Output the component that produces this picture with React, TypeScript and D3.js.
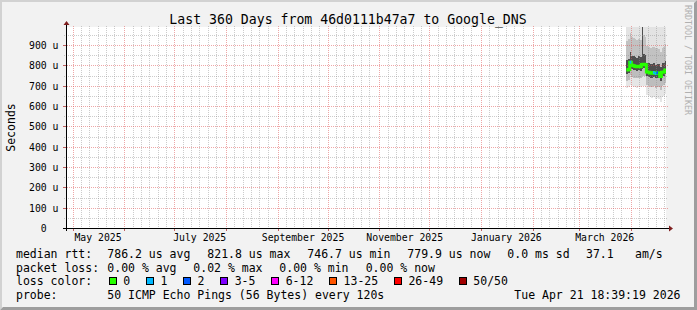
import React from "react";
import * as d3 from "d3";

const W = 697;
const H = 310;

const END_TIME = Date.UTC(2026, 3, 21, 18, 39, 19);
const SPAN_DAYS = 360;

const titleText = "Last 360 Days from 46d0111b47a7 to Google_DNS";
const yAxisTitle = "Seconds";
const watermark = "RRDTOOL / TOBI OETIKER";

const yMajorTicks = [0, 100, 200, 300, 400, 500, 600, 700, 800, 900];
const yMajorLabels = ["0", "100 u", "200 u", "300 u", "400 u", "500 u", "600 u", "700 u", "800 u", "900 u"];
const yMinorTicks = [50, 150, 250, 350, 450, 550, 650, 750, 850, 950];

const xLabelMonths = [[2025, 4], [2025, 6], [2025, 8], [2025, 10], [2026, 0], [2026, 2]];
const xLabelTexts = ["May 2025", "July 2025", "September 2025", "November 2025", "January 2026", "March 2026"];
const minorDaysOfMonth = [6, 11, 16, 21, 26];

// daily data, first day 2026-03-29 (values in microseconds)
const dataFirstDay = [2026, 2, 29];
const medianRtt = [780, 782, 818, 803, 800, 797, 795, 798, 796, 806, 808, 805, 770, 768, 765, 764, 767, 762, 766, 763, 748, 768, 770, 780];
const lossIndex = [0, 0, 1, 0, 0, 0, 0, 0, 0, 0, 0, 0, 0, 0, 0, 0, 1, 1, 2, 0, 0, 0, 0, 0];
const smokeMin = [690, 695, 705, 700, 698, 695, 692, 696, 694, 700, 702, 698, 655, 650, 645, 640, 648, 635, 642, 638, 620, 645, 650, 660];
const smokeP10 = [725, 730, 755, 745, 742, 740, 738, 742, 740, 750, 752, 748, 705, 700, 698, 695, 700, 692, 698, 694, 680, 700, 705, 715];
const smokeP25 = [762, 765, 790, 784, 780, 778, 776, 780, 775, 786, 790, 786, 748, 744, 742, 740, 745, 738, 742, 740, 726, 744, 748, 758];
const smokeP75 = [830, 835, 870, 850, 848, 845, 840, 846, 845, 1000, 860, 852, 815, 812, 808, 810, 812, 806, 810, 808, 795, 812, 816, 825];
const smokeP90 = [920, 930, 960, 940, 935, 930, 925, 930, 928, 1000, 950, 940, 900, 895, 890, 892, 895, 888, 890, 885, 870, 890, 895, 905];
const smokeMax = [1150, 1180, 1220, 1160, 1140, 1170, 1130, 1150, 1160, 1250, 1190, 1170, 1120, 1110, 1100, 1130, 1120, 1090, 1110, 1100, 1080, 1120, 1130, 1140];

const lossLabels = ["0", "1", "2", "3-5", "6-12", "13-25", "26-49", "50/50"];
const lossColors = ["#26ff00", "#00b8ff", "#0059ff", "#7e00ff", "#ff00ff", "#ff5500", "#ff0000", "#a10000"];

const rttStats = ["786.2 us avg", "821.8 us max", "746.7 us min", "779.9 us now", "0.0 ms sd"];
const rttAms = ["37.1", "am/s"];
const lossStats = ["0.00 % avg", "0.02 % max", "0.00 % min", "0.00 % now"];
const legendHeads = ["median rtt:", "packet loss:", "loss color:", "probe:"];
const probeText = "50 ICMP Echo Pings (56 Bytes) every 120s";
const timestampText = "Tue Apr 21 18:39:19 2026";

const FONT = "'DejaVu Sans Mono', monospace";

export default function App() {
  const plotL = 66;
  const plotR = 666;
  const plotT = 27;
  const plotB = 228;
  const startTime = END_TIME - SPAN_DAYS * 86400000;

  const x = d3.scaleUtc().domain([new Date(startTime), new Date(END_TIME)]).range([plotL, plotR]);
  const y = d3.scaleLinear().domain([0, 900]).range([plotB + 0.5, 45.5]);
  const px = (t: Date | number) => Math.floor(x(t as any)) + 0.5;
  const py = (v: number) => Math.floor(y(v)) + 0.5;

  const monthStarts = d3.utcMonth.range(new Date(startTime), new Date(END_TIME));
  const minorDates: Date[] = [];
  const firstMonth = d3.utcMonth.floor(new Date(startTime));
  d3.utcMonth.range(firstMonth, new Date(END_TIME)).forEach((m) => {
    minorDaysOfMonth.forEach((d) => {
      const dt = new Date(Date.UTC(m.getUTCFullYear(), m.getUTCMonth(), d));
      if (dt.getTime() > startTime && dt.getTime() < END_TIME) minorDates.push(dt);
    });
  });

  const gridMinor = "rgba(143,143,143,0.45)";
  const gridMajor = "rgba(222,80,80,0.5)";

  const days = medianRtt.map((_, i) => {
    const d0 = Date.UTC(dataFirstDay[0], dataFirstDay[1], dataFirstDay[2] + i);
    const d1 = Date.UTC(dataFirstDay[0], dataFirstDay[1], dataFirstDay[2] + i + 1);
    return { x0: x(d0), x1: Math.min(x(d1), plotR) };
  });

  const bands = [
    { lo: smokeMin, hi: smokeP10, color: "#e6e6e6" },
    { lo: smokeP10, hi: smokeP25, color: "#bdbdbd" },
    { lo: smokeP25, hi: smokeP75, color: "#4e4e4e" },
    { lo: smokeP75, hi: smokeP90, color: "#c2c2c2" },
    { lo: smokeP90, hi: smokeMax, color: "#e3e3e3" },
  ];

  const medPts = [...medianRtt, medianRtt[medianRtt.length - 1]];
  const medPath = d3
    .line<number>()
    .x((_, i) => (i < days.length ? days[i].x0 : days[days.length - 1].x1))
    .y((v) => y(v))
    .curve(d3.curveStepAfter)(medPts);

  const charW = 6.93;
  const boxes: { x: number; label: string; color: string }[] = [];
  let bx = 108.7;
  lossLabels.forEach((lab, i) => {
    boxes.push({ x: bx, label: lab, color: lossColors[i] });
    bx = bx + 14.6 + lab.length * charW + 15.6;
  });

  const rttX = [107.3, 207.3, 307.3, 407.3, 507.3];
  const amsX = [586, 635];
  const lossX = [107.3, 193.3, 279.3, 365.7];
  const rowY = [258.3, 271.8, 285.4, 299];

  return (
    <svg width={W} height={H} style={{ position: "absolute", left: 0, top: 0, display: "block" }} fontFamily={FONT}>
      <rect x={0} y={0} width={W} height={H} fill="#f2f2f2" />
      {/* shade frame */}
      <polygon points={`0,0 ${W},0 ${W - 2},2 2,2 2,${H - 2} 0,${H}`} fill="#d2d2d2" />
      <polygon points={`${W},0 ${W},${H} 0,${H} 3,${H - 3} ${W - 3},${H - 3} ${W - 3},3`} fill="#9e9e9e" />

      {/* canvas */}
      <rect x={plotL} y={plotT} width={plotR - plotL} height={plotB - plotT} fill="#ffffff" />

      <defs>
        <clipPath id="plotclip">
          <rect x={plotL + 1} y={plotT} width={plotR - plotL - 1} height={plotB - plotT} />
        </clipPath>
      </defs>

      {/* smoke */}
      <g clipPath="url(#plotclip)" shapeRendering="crispEdges">
        {bands.map((b, k) =>
          days.map((d, i) => (
            <rect
              key={`b${k}-${i}`}
              x={d.x0}
              width={d.x1 - d.x0 + 0.3}
              y={y(b.hi[i])}
              height={Math.max(0, y(b.lo[i]) - y(b.hi[i]))}
              fill={b.color}
            />
          ))
        )}
      </g>

      {/* grid */}
      <g shapeRendering="crispEdges">
        {yMinorTicks.map((v) => (
          <line key={`ym${v}`} x1={plotL - 2} x2={plotR + 2} y1={py(v)} y2={py(v)} stroke={gridMinor} strokeDasharray="1,1" />
        ))}
        {minorDates.map((d) => (
          <line key={`xm${d.getTime()}`} x1={px(d)} x2={px(d)} y1={plotT - 1} y2={plotB + 2} stroke={gridMinor} strokeDasharray="1,1" />
        ))}
        {yMajorTicks.slice(1).map((v) => (
          <g key={`yM${v}`}>
            <line x1={plotL + 1} x2={plotR + 2} y1={py(v)} y2={py(v)} stroke={gridMajor} strokeDasharray="1,1" />
            <line x1={plotL - 3} x2={plotL} y1={py(v)} y2={py(v)} stroke="#c06060" />
          </g>
        ))}
        {monthStarts.map((d) => (
          <g key={`xM${d.getTime()}`}>
            <line x1={px(d)} x2={px(d)} y1={plotT - 1} y2={plotB} stroke={gridMajor} strokeDasharray="1,1" />
            <line x1={px(d)} x2={px(d)} y1={plotB} y2={plotB + 3} stroke="#c06060" />
          </g>
        ))}
      </g>

      {/* median */}
      <g clipPath="url(#plotclip)">
        <path d={medPath || ""} fill="none" stroke={lossColors[0]} strokeWidth={3} />
        {days.map((d, i) =>
          lossIndex[i] > 0 ? (
            <rect key={`m${i}`} x={d.x0} width={d.x1 - d.x0} y={y(medianRtt[i]) - 1.5} height={3} fill={lossColors[lossIndex[i]]} />
          ) : null
        )}
      </g>

      {/* axes */}
      <g shapeRendering="crispEdges">
        <line x1={plotL - 3} x2={plotR + 3} y1={plotB + 0.5} y2={plotB + 0.5} stroke="#000" />
        <line x1={plotL + 0.5} x2={plotL + 0.5} y1={plotB + 3} y2={plotT - 2} stroke="#000" />
      </g>
      <polygon points={`${plotR + 3},${plotB - 2.5} ${plotR + 7},${plotB + 0.5} ${plotR + 3},${plotB + 3.5}`} fill="#7f1f1f" />
      <polygon points={`${plotL - 2.5},${plotT - 2} ${plotL + 0.5},${plotT - 6} ${plotL + 3.5},${plotT - 2}`} fill="#7f1f1f" />

      {/* y labels */}
      {yMajorTicks.map((v, i) => (
        <text key={`yl${v}`} x={v === 0 ? 58.5 - 2 * 5.9 : 58.5} y={py(v) + 3.3} fontSize={9.8} textAnchor="end" fill="#000">
          {yMajorLabels[i]}
        </text>
      ))}

      {/* x labels */}
      {xLabelMonths.map((m, i) => {
        const t = Date.UTC(m[0], m[1], 1) + 15 * 86400000;
        return (
          <text key={`xl${i}`} x={x(t)} y={241.3} fontSize={9.8} textAnchor="middle" fill="#000">
            {xLabelTexts[i]}
          </text>
        );
      })}

      {/* title */}
      <text x={348} y={24} fontSize={13.2} textAnchor="middle" fill="#000">
        {titleText}
      </text>

      {/* y axis title */}
      <text transform="translate(14.5,127.5) rotate(-90)" fontSize={11.5} textAnchor="middle" fill="#000">
        {yAxisTitle}
      </text>

      {/* watermark */}
      <text transform="translate(685,5) rotate(90)" fontSize={8.3} fill="#b0b0b0">
        {watermark}
      </text>

      {/* legend */}
      <g fontSize={11.5} fill="#000">
        {legendHeads.map((h, i) => (
          <text key={`lh${i}`} x={16} y={rowY[i]}>
            {h}
          </text>
        ))}
        {rttStats.map((s, i) => (
          <text key={`rs${i}`} x={rttX[i]} y={rowY[0]}>
            {s}
          </text>
        ))}
        {rttAms.map((s, i) => (
          <text key={`ra${i}`} x={amsX[i]} y={rowY[0]}>
            {s}
          </text>
        ))}
        {lossStats.map((s, i) => (
          <text key={`ls${i}`} x={lossX[i]} y={rowY[1]}>
            {s}
          </text>
        ))}
        {boxes.map((b, i) => (
          <g key={`bx${i}`}>
            <rect x={Math.round(b.x) + 0.5} y={277.5} width={7} height={7} fill={b.color} stroke="#000" strokeWidth={1} />
            <text x={b.x + 14.6} y={rowY[2]}>
              {b.label}
            </text>
          </g>
        ))}
        <text x={107.3} y={rowY[3]}>
          {probeText}
        </text>
        <text x={680.5} y={rowY[3]} textAnchor="end">
          {timestampText}
        </text>
      </g>
    </svg>
  );
}
